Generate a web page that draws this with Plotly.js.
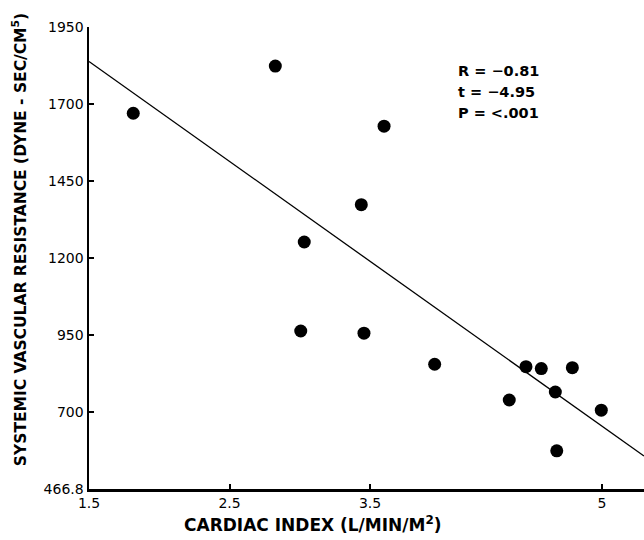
<!DOCTYPE html>
<html>
<head>
<meta charset="utf-8">
<script src="https://cdn.plot.ly/plotly-3.0.1.min.js"></script>
<style>html,body{margin:0;padding:0;background:#fff;}#chart{width:644px;height:540px;}</style>
</head>
<body>
<div id="chart"></div>
<script>
// Data
const cardiacIndex = [1.815, 2.826, 3.600, 3.438, 3.032, 3.007, 3.457, 3.960, 4.610, 4.719, 4.940, 4.819, 4.491, 5.146, 4.829];
const resistance   = [1670, 1823, 1628, 1373, 1252, 963, 956, 855, 847, 841, 844, 765, 739, 706, 574];
const fitX = [1.5, 5.45];
const fitY = [1838, 557];
const xTickVals = [1.5, 2.5, 3.5, 5.15];
const xTickText = ["1.5", "2.5", "3.5", "5"];
const yTickVals = [450, 700, 950, 1200, 1450, 1700, 1950];
const yTickText = ["466.8", "700", "950", "1200", "1450", "1700", "1950"];
const statsText = ["R = −0.81", "t = −4.95", "P = <.001"];
const xTitle = "CARDIAC INDEX (L/MIN/M<sup>2</sup>)";
const yTitle = "SYSTEMIC VASCULAR RESISTANCE (DYNE - SEC/CM<sup>5</sup>)";

const tickFont = {family: "DejaVu Sans, Liberation Sans, sans-serif", size: 14, color: "#000"};
const boldFont = (s) => ({family: "DejaVu Sans, Liberation Sans, sans-serif", size: s, color: "#000", weight: 700});

const traces = [
  {x: fitX, y: fitY, mode: "lines", line: {color: "#000", width: 1.3}, hoverinfo: "skip"},
  {x: cardiacIndex, y: resistance, mode: "markers", marker: {color: "#000", size: 13}}
];

const statsY = [0.905, 0.859, 0.814];
const statsAnn = statsText.map((t, i) => ({
  xref: "paper", yref: "paper", x: 0.661, y: statsY[i],
  xanchor: "left", yanchor: "middle", align: "left",
  text: "<b>" + t + "</b>", showarrow: false, font: boldFont(14.5)
}));

const layout = {
  width: 644, height: 540,
  margin: {l: 89, r: 0, t: 27, b: 51, pad: 0},
  paper_bgcolor: "#fff", plot_bgcolor: "#fff",
  showlegend: false,
  xaxis: {
    range: [1.5, 5.45], showgrid: false, zeroline: false,
    showline: true, linecolor: "#000", linewidth: 2.5,
    ticks: "inside", ticklen: 5, tickwidth: 2, tickcolor: "#000",
    tickvals: xTickVals, ticktext: xTickText, tickfont: tickFont,
    automargin: false
  },
  yaxis: {
    range: [450, 1950], showgrid: false, zeroline: false,
    showline: true, linecolor: "#000", linewidth: 2.5,
    ticks: "inside", ticklen: 5, tickwidth: 2, tickcolor: "#000",
    tickvals: yTickVals, ticktext: yTickText, tickfont: tickFont,
    automargin: false
  },
  annotations: statsAnn.concat([
    {
      xref: "paper", yref: "paper", x: 0.403, y: -0.0747,
      xanchor: "center", yanchor: "middle",
      text: "<b>" + xTitle + "</b>", showarrow: false, font: boldFont(17)
    },
    {
      xref: "paper", yref: "paper", x: -0.124, y: 0.539,
      xanchor: "center", yanchor: "middle", textangle: -90,
      text: "<b>" + yTitle + "</b>", showarrow: false, font: boldFont(15.5)
    }
  ])
};

Plotly.newPlot("chart", traces, layout, {staticPlot: true, displayModeBar: false});
</script>
</body>
</html>
